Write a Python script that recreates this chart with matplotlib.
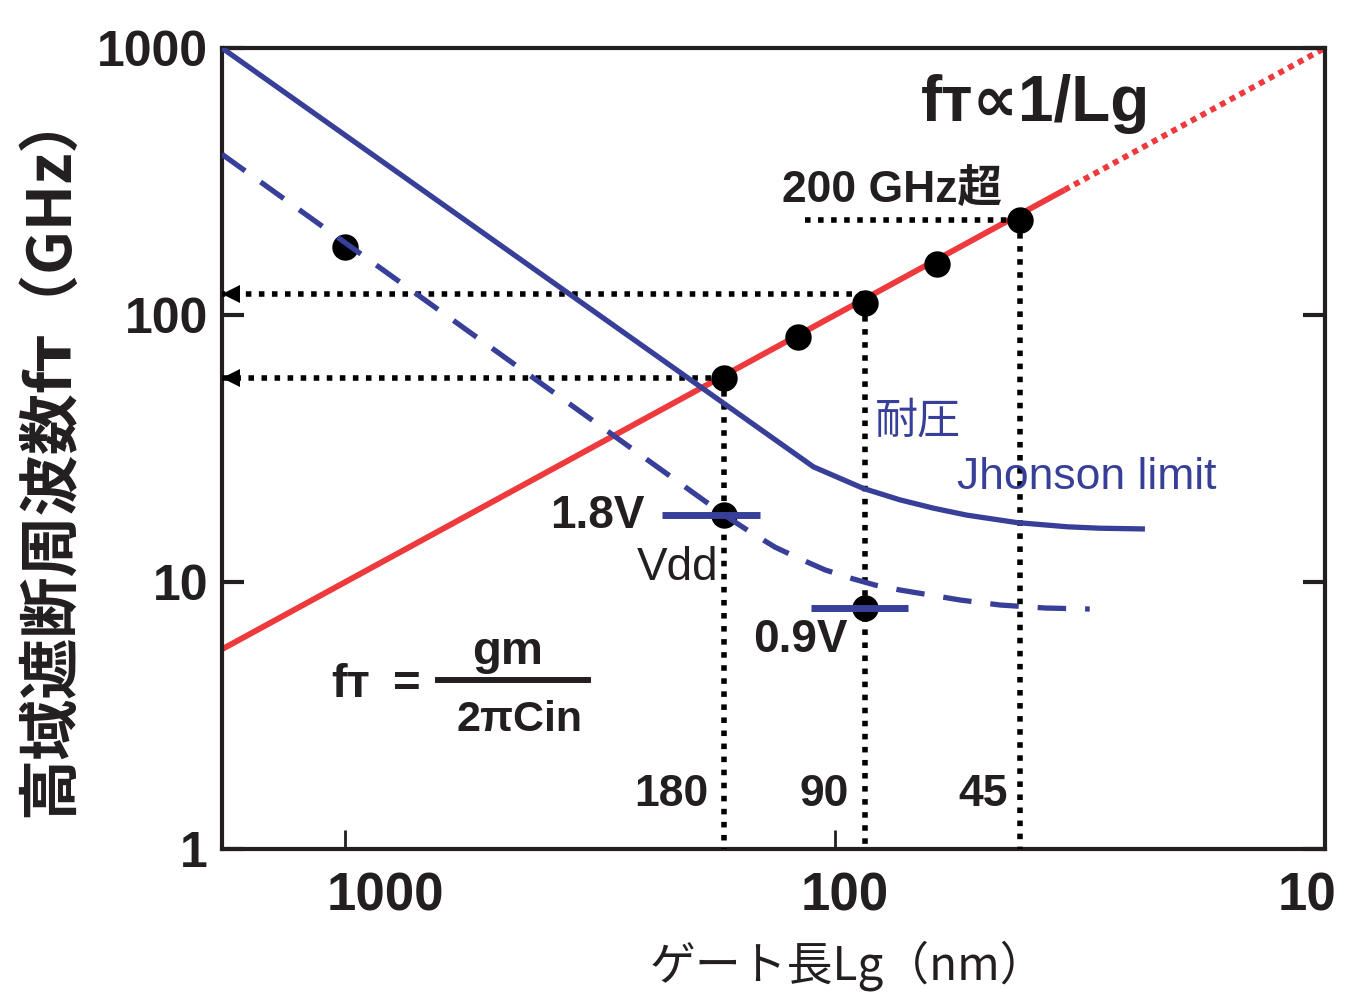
import matplotlib
matplotlib.use('Agg')
import matplotlib.pyplot as plt
import matplotlib.transforms as mtransforms
from matplotlib import font_manager
from matplotlib.ticker import FixedLocator, NullLocator
from matplotlib.lines import Line2D

# ---------------- data ----------------
x_limits = [1780, 10]          # gate length (nm), reversed axis
y_limits = [1, 1000]           # fT (GHz)
x_ticks = [1000, 100, 10]
x_tick_labels = ['1000', '100', '10']
y_ticks = [1, 10, 100, 1000]
y_tick_labels = ['1', '10', '100', '1000']

# fT ∝ 1/Lg trend line (solid part and dotted extrapolation)
trend_solid_lg = [1780, 34]
trend_solid_ft = [5.6, 294]
trend_dot_lg = [34, 10]
trend_dot_ft = [294, 1000]

# measured devices
dev_lg = [1000, 168, 119, 87, 62, 42]
dev_ft = [180, 58, 83, 111, 155, 227]

# Johnson limit (solid) curve
johnson_lg = [1780, 110.6, 87.4, 73.6, 62.9, 53.8, 42.6, 33.6, 28.8, 23.3]
johnson_ft = [1000, 27.0, 22.4, 20.3, 18.9, 17.8, 16.7, 16.1, 15.9, 15.8]

# breakdown (dashed) curve
brk_lg = [1780, 168, 148.9, 132.4, 117.7, 104.7, 93.1, 82.8, 73.6, 63.9, 55.5, 46.0, 37.2, 30.2]
brk_ft = [400, 17.8, 15.4, 13.5, 12.2, 11.1, 10.35, 9.74, 9.33, 8.94, 8.56, 8.20, 7.99, 7.92]

# Vdd points and bars
vdd_lg = [168, 87]
vdd_ft = [17.8, 8.0]
vdd_bar_lg = [(225, 142), (112, 71)]
vdd_labels = ['1.8V', '0.9V']

# node guide lines
node_labels = ['180', '90', '45']
node_lg = [168, 87, 42]
node_ft = [58, 111, 227]

# horizontal arrows to the fT axis
arrow_ft = [120, 58]
arrow_from_lg = [87, 168]

# 200 GHz guide
ghz_ft = 227
ghz_lg = [115, 42]

# ---------------- styling ----------------
RED = '#EE3A3C'
BLUE = '#373F98'
BLACK = '#231F20'

names = {f.name for f in font_manager.fontManager.ttflist}
NARROW = 'Liberation Sans Narrow' if 'Liberation Sans Narrow' in names else 'Liberation Sans'
CJK = 'Noto Sans CJK JP'

fig = plt.figure(figsize=(13.55, 10), dpi=100)
ax = fig.add_axes([222 / 1355, 1 - 849 / 1000, (1325 - 222) / 1355, (849 - 48) / 1000])
ax.set_xscale('log')
ax.set_yscale('log')
ax.set_xlim(x_limits)
ax.set_ylim(y_limits)

for sp in ax.spines.values():
    sp.set_linewidth(3.0)
    sp.set_color(BLACK)

ax.xaxis.set_major_locator(FixedLocator(x_ticks))
ax.xaxis.set_minor_locator(NullLocator())
ax.yaxis.set_major_locator(FixedLocator(y_ticks))
ax.yaxis.set_minor_locator(NullLocator())
ax.set_xticklabels(x_tick_labels)
ax.set_yticklabels(y_tick_labels)
ax.tick_params(axis='y', which='major', direction='in', length=16, width=3,
               left=True, right=True, labelleft=True, labelright=False, pad=10,
               colors=BLACK)
ax.tick_params(axis='x', which='major', direction='in', length=14, width=2,
               bottom=True, top=False, pad=16, colors=BLACK)
for lab in ax.get_yticklabels():
    lab.set_fontfamily('Liberation Sans')
    lab.set_fontweight('bold')
    lab.set_fontsize(36)
x_offsets_px = [41, 10, -18]
for lab, dx in zip(ax.get_xticklabels(), x_offsets_px):
    lab.set_fontfamily(NARROW)
    lab.set_fontweight('bold')
    lab.set_fontsize(38)
    lab.set_transform(lab.get_transform() +
                      mtransforms.ScaledTranslation(dx / 100, 0, fig.dpi_scale_trans))

# trend line
ax.plot(trend_solid_lg, trend_solid_ft, color=RED, lw=4.2, solid_capstyle='butt', zorder=2)
ax.plot(trend_dot_lg, trend_dot_ft, color=RED, lw=4.2, dashes=(1.0, 0.9),
        dash_capstyle='butt', zorder=2)

# dotted guides
dot_kw = dict(color='black', lw=4.0, dashes=(1.0, 1.35), dash_capstyle='butt', zorder=3)
for lg, ft in zip(node_lg, node_ft):
    ax.plot([lg, lg], [ft, y_limits[0]], **dot_kw)
for ft, lg in zip(arrow_ft, arrow_from_lg):
    ax.plot([lg, x_limits[0]], [ft, ft], **dot_kw)
    tip = mtransforms.offset_copy(ax.transData, fig=fig, x=6.5, y=0, units='points')
    ax.plot([x_limits[0]], [ft], marker='<', ms=13, color='black', mew=0,
            transform=tip, clip_on=False, zorder=4)
ax.plot(ghz_lg, [ghz_ft, ghz_ft], **dot_kw)

# devices
ax.plot(dev_lg, dev_ft, 'o', color='black', ms=19, mew=0, zorder=4)
ax.plot(vdd_lg, vdd_ft, 'o', color='black', ms=19, mew=0, zorder=4)

# blue curves
ax.plot(johnson_lg, johnson_ft, color=BLUE, lw=3.8, solid_capstyle='butt',
        solid_joinstyle='round', zorder=5)
ax.plot(brk_lg, brk_ft, color=BLUE, lw=3.8, dashes=(5.4, 3.6), dash_capstyle='butt',
        zorder=5)
for (l0, l1), ft in zip(vdd_bar_lg, vdd_ft):
    ax.plot([l0, l1], [ft, ft], color=BLUE, lw=5, solid_capstyle='butt', zorder=6)

# ---------------- texts ----------------
def axfrac(px, py):
    return (px - 222) / 1103, (849 - py) / 801

def t(px, py, s, size, weight='bold', color=BLACK, family=None, ha='center', va='center', **kw):
    fx, fy = axfrac(px, py)
    ax.text(fx, fy, s, transform=ax.transAxes, fontsize=size, fontweight=weight,
            color=color, family=family or [NARROW, 'DejaVu Sans'], ha=ha, va=va, **kw)

t(1035, 121, 'f\u1d1b\u221d1/Lg', 46, va='baseline')
t(892, 203, '200 GHz超', 32, family=[NARROW, CJK], va='baseline')
t(918, 422, '耐圧', 31, weight='normal', color=BLUE, family=[CJK])
t(957, 478, 'Jhonson limit', 32, weight='normal', color=BLUE, ha='left')
t(645, 516, vdd_labels[0], 33, ha='right')
t(718, 568, 'Vdd', 33, weight='normal', ha='right')
t(800, 640, vdd_labels[1], 33)
for lab, px in zip(node_labels, [671, 824, 983]):
    t(px, 795, lab, 32)

# formula
t(351, 685, 'f\u1d1b', 34)
t(407, 685, '=', 34)
t(508, 652, 'gm', 34)
t(520, 720, '2πCin', 31)
fx0, fy0 = axfrac(438, 680)
fx1, _ = axfrac(588, 680)
ax.add_line(Line2D([fx0, fx1], [fy0, fy0], transform=ax.transAxes, color=BLACK, lw=4.3))

# axis titles
fig.text(50 / 1355, 1 - 452 / 1000, '高域遮断周波数f\u1d1b（GHz）', rotation=90,
         fontsize=44, fontweight='bold', color=BLACK, family=[CJK, 'DejaVu Sans'],
         ha='center', va='center')
fig.text(848 / 1355, 1 - 966 / 1000, 'ゲート長Lg（nm）', fontsize=33,
         color=BLACK, family=[CJK, 'DejaVu Sans'], ha='center', va='center')

fig.savefig('out.png', dpi=100)
